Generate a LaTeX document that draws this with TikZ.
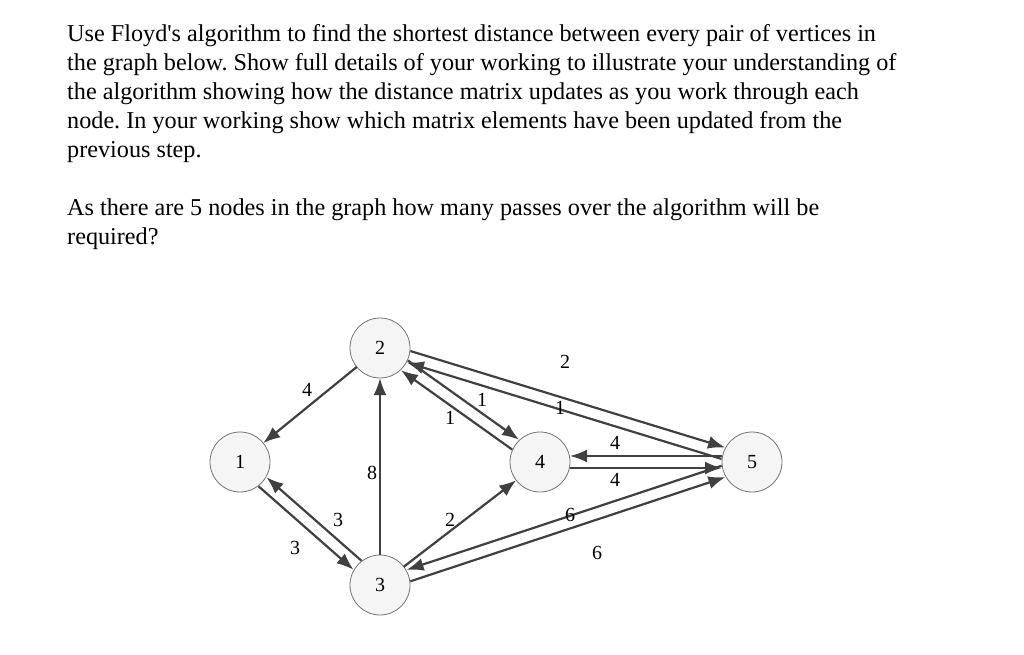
\documentclass[tikz,border=0pt]{standalone}
\usepackage{fontspec}
\setmainfont{Liberation Serif}
\usetikzlibrary{calc,arrows.meta}
\begin{document}
\frenchspacing
\begin{tikzpicture}[x=1pt,y=1pt,
  vert/.style={circle,draw=black!55,line width=0.8pt,fill=gray!8,minimum size=60pt,inner sep=0pt,font=\fontsize{20}{20}\selectfont},
  edge/.style={draw=black!75,line width=2.2pt,-{Latex[length=17pt,width=13pt]}},
  wt/.style={font=\fontsize{20}{20}\selectfont,inner sep=0pt},
  txt/.style={anchor=base west,inner sep=0pt,font=\fontsize{24.2}{29}\selectfont}]
\useasboundingbox (0,0) rectangle (1024,654);
\node[txt] (l1) at (67,612) {Use Floyd\textquotesingle s algorithm to find the shortest distance between every pair of vertices in};
\node[txt] (l2) at (67,583) {the graph below. Show full details of your working to illustrate your understanding of};
\node[txt] (l3) at (67,554) {the algorithm showing how the distance matrix updates as you work through each};
\node[txt] (l4) at (67,525) {node. In your working show which matrix elements have been updated from the};
\node[txt] (l5) at (67,496) {previous step.};
\node[txt] (l6) at (67,438) {As there are 5 nodes in the graph how many passes over the algorithm will be};
\node[txt] (l7) at (67,409) {required?};
\node[vert] (n1) at (240,192) {1};
\node[vert] (n2) at (380,306) {2};
\node[vert] (n3) at (380,69) {3};
\node[vert] (n4) at (540,192) {4};
\node[vert] (n5) at (752,192) {5};
\newcommand{\pe}[3]{\draw[edge] ($ ($(#1)!30pt!(#2)$) !6pt!#3:(#2) $) -- ($ ($(#2)!30pt!(#1)$) !6pt!-#3:(#1) $);}
\newcommand{\se}[2]{\draw[edge] ($(#1)!30pt!(#2)$) -- ($(#2)!30pt!(#1)$);}
\se{n2}{n1}
\se{n3}{n2}
\se{n3}{n4}
\pe{n1}{n3}{-90}
\pe{n3}{n1}{-90}
\pe{n2}{n4}{90}
\pe{n4}{n2}{90}
\pe{n2}{n5}{90}
\pe{n5}{n2}{90}
\pe{n5}{n4}{-90}
\pe{n4}{n5}{-90}
\pe{n5}{n3}{-90}
\pe{n3}{n5}{-90}
\node[wt] (w21) at (307,264) {4};
\node[wt] (w13) at (295,106) {3};
\node[wt] (w31) at (338,134) {3};
\node[wt] (w32) at (372,181) {8};
\node[wt] (w24) at (482,254) {1};
\node[wt] (w42) at (450,236) {1};
\node[wt] (w25) at (565,292) {2};
\node[wt] (w52) at (560,246) {1};
\node[wt] (w54) at (615,211) {4};
\node[wt] (w45) at (615,174) {4};
\node[wt] (w34) at (450,134) {2};
\node[wt] (w53) at (570,139) {6};
\node[wt] (w35) at (597,101) {6};
\end{tikzpicture}
\end{document}
